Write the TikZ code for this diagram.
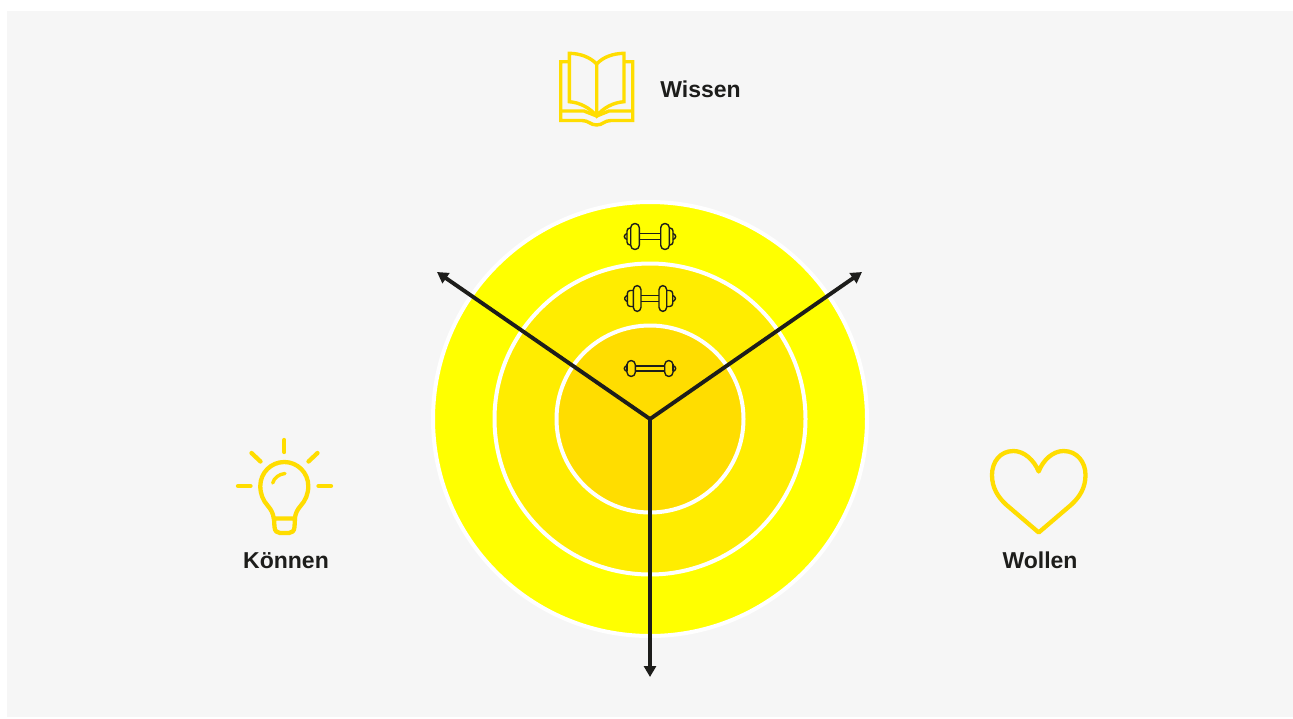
\documentclass[tikz,border=0pt]{standalone}
\usepackage{fontspec}
\setmainfont{Liberation Sans}
\usetikzlibrary{arrows.meta}
\definecolor{ringa}{HTML}{FFFF00}
\definecolor{ringb}{HTML}{FFED00}
\definecolor{ringc}{HTML}{FFDD00}
\definecolor{ink}{HTML}{1D1D1B}
\definecolor{paper}{HTML}{F6F6F6}
\tikzset{
  ring/.style={circle,draw=white,line width=4pt,inner sep=0pt,outer sep=0pt},
  axis/.style={draw=ink,line width=3.9pt,-{Triangle[length=11pt,width=12pt]}},
  icon/.style={draw=ringc,line width=3.4pt,line join=miter},
  iconr/.style={draw=ringc,line width=4.3pt,line cap=round,line join=round},
  bell/.style={draw=ink,line width=1.4pt,line join=round},
  lab/.style={font=\fontsize{23}{27}\selectfont\bfseries,text=ink,inner sep=0pt,anchor=base}
}
% #1 sign, #2 y, #3 big plate inner offset, #4 big plate outer offset, #5 big half height, #6 medium outer offset, #7 medium half height
\newcommand{\bellside}[7]{%
  \begin{scope}[shift={(650,#2)},xscale=#1]
    \draw[bell,rounded corners=3pt] (#4,-#7) -- (#6,-#7) -- (#6,#7) -- (#4,#7);
    \draw[bell,rounded corners=1pt] (#6,-3) -- (#6+2.6,-1.4) -- (#6+2.6,1.4) -- (#6,3);
    \draw[bell,rounded corners=4.2pt] (#3,-#5) rectangle (#4,#5);
  \end{scope}}
% #1 y, #2 bar half height, #3..#7 as above
\newcommand{\dumbbell}[7]{%
  \bellside{1}{#1}{#3}{#4}{#5}{#6}{#7}
  \bellside{-1}{#1}{#3}{#4}{#5}{#6}{#7}
  \draw[bell] (650-#3,#1-#2) -- (650+#3,#1-#2) (650-#3,#1+#2) -- (650+#3,#1+#2);}
\begin{document}
\begin{tikzpicture}[x=1pt,y=-1pt]
\useasboundingbox (0,0) rectangle (1293,718);
\fill[white] (0,0) rectangle (1293,718);
\fill[paper] (7,11) rectangle (1293,717);

\node[ring,fill=ringa,minimum size=434pt] (outer) at (650,419) {};
\node[ring,fill=ringb,minimum size=311pt] (middle) at (650,419) {};
\node[ring,fill=ringc,minimum size=187pt] (inner) at (650,419) {};

\dumbbell{236.5}{3.2}{10.7}{19.3}{13}{23}{8.5}
\dumbbell{298.5}{3.0}{9}{16.7}{13}{22.7}{8}
\dumbbell{368.5}{2.5}{14.7}{23}{8}{23}{1}

\coordinate (centre) at (650,419);
\coordinate (tipL) at (437,272);
\coordinate (tipR) at (862,272);
\coordinate (tipB) at (650,677);
\draw[axis] (centre) -- (tipL);
\draw[axis] (centre) -- (tipR);
\draw[axis] (centre) -- (tipB);

% book
\draw[icon] (596.7,64) .. controls (590,57) and (580,53.5) .. (569.3,53.3) -- (569.3,101.7)
  .. controls (580,102.5) and (590,108) .. (596.7,116)
  .. controls (603,108) and (613,102.5) .. (624,101.7) -- (624,53.3)
  .. controls (613,53.5) and (603,57) .. (596.7,64) -- (596.7,116);
\draw[icon] (569.3,61.7) -- (560.7,61.7) -- (560.7,120.5) -- (582,120.5)
  .. controls (589,120.5) and (590,125) .. (596.7,125)
  .. controls (603,125) and (604,120.5) .. (611,120.5) -- (632.7,120.5) -- (632.7,61.7) -- (624,61.7);
\draw[icon] (560.7,111) -- (584,111) -- (596.7,116) -- (609,111) -- (632.7,111);
\node[lab] (wissen) at (700.5,97) {Wissen};

% bulb
\draw[iconr] (273.8,518.5) .. controls (273,513) and (271,509.5) .. (268,506)
  .. controls (263,500.5) and (260.3,494) .. (260.3,486)
  arc[start angle=180,end angle=360,radius=24]
  .. controls (308.3,494) and (305.5,500.5) .. (300.5,506)
  .. controls (297.5,509.5) and (295.5,513) .. (294.8,518.5);
\draw[iconr] (274,518.5) -- (274.5,527) .. controls (274.8,531) and (277,533) .. (280,533) -- (289,533)
  .. controls (292,533) and (294.2,531) .. (294.5,527) -- (295,518.5) -- cycle;
\draw[iconr,line width=3.4pt] (272.7,483) .. controls (274,478) and (279,474) .. (285,473.5);
\draw[iconr] (284.3,440) -- (284.3,452);
\draw[iconr] (238,486) -- (250.5,486);
\draw[iconr] (318.5,486) -- (331,486);
\draw[iconr] (251.5,453) -- (260.5,461.5);
\draw[iconr] (317.5,453) -- (308.5,461.5);
\node[lab] (koennen) at (286,568) {Können};

% heart
\draw[iconr] (1038.7,471.5)
  .. controls (1034,460) and (1024,451) .. (1013.5,451)
  .. controls (1000,451) and (992,462) .. (992,475)
  .. controls (992,488) and (998,497) .. (1006,504.5)
  -- (1038.7,532.5)
  -- (1071.5,504.5)
  .. controls (1079.5,497) and (1085.5,488) .. (1085.5,475)
  .. controls (1085.5,462) and (1077,451) .. (1063.5,451)
  .. controls (1053,451) and (1043,460) .. (1038.7,471.5) -- cycle;
\node[lab] (wollen) at (1040,568) {Wollen};
\end{tikzpicture}
\end{document}
